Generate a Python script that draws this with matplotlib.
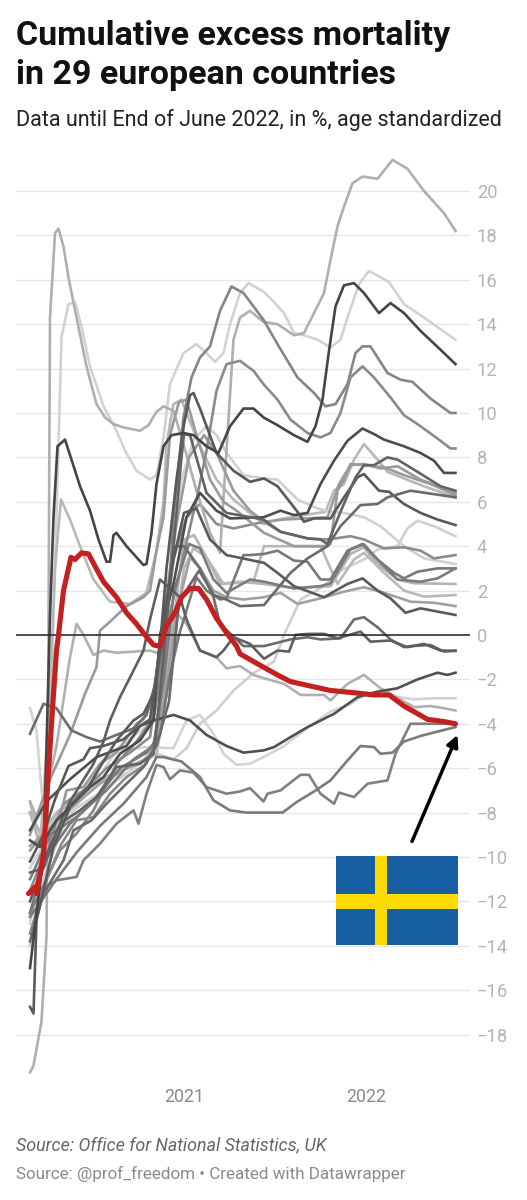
import matplotlib
matplotlib.use("Agg")
import matplotlib.pyplot as plt
from matplotlib.patches import Rectangle

plt.rcParams['font.family'] = ['Roboto', 'DejaVu Sans']

# x = days since 1 Jan 2021, y = cumulative excess mortality in %
s01 = [(-308,-19.7),(-301,-19.4),(-285,-17.4),(-275,-13.6),(-272,-5),(-270,5),(-268,14.3),(-258,18.1),(-251,18.3),(-241,17.5),(-231,16.1),(-215,14.3),(-195,12.1),(-175,10.4),(-158,9.8),(-141,9.5),(-121,9.35),(-88,9.2),(-71,9.45),(-55,10.05),(-41,10.3),(-21,10.1),(-1,8.6),(25,6.5),(52,4.6),(72,3.7),(85,8.3),(99,13.3),(112,14.3),(132,14.6),(159,14.1),(187,14),(220,13.5),(240,13.6),(260,14.5),(280,15.4),(293,16.9),(307,18.4),(320,19.3),(337,20.35),(357,20.65),(387,20.55),(417,21.4),(447,21),(480,20),(520,19),(543,18.2)]
s02 = [(-308,-13),(-275,-8),(-258,3),(-245,13.4),(-231,14.9),(-218,15),(-205,13.9),(-188,12.1),(-161,10.3),(-135,9.2),(-118,8.3),(-95,7.4),(-68,7),(-55,7.2),(-41,8.9),(-28,11.3),(-1,12.7),(25,13.1),(45,12.7),(62,12.3),(79,12.7),(92,14),(112,15.4),(129,15.85),(160,15.45),(180,15),(200,14.5),(220,13.6),(240,13.5),(267,13.3),(293,12.95),(313,13.3),(327,14.3),(350,15.8),(370,16.4),(410,15.9),(440,14.9),(480,14.3),(543,13.3)]
s03 = [(-308,-12.55),(-275,-11),(-248,-9.7),(-215,-8.95),(-181,-7.9),(-135,-5.8),(-95,-4.8),(-60,-3.7),(-35,0),(-21,5.3),(-1,9.8),(15,11.6),(32,12.5),(52,13),(72,14.6),(95,15.7),(119,15.4),(139,14.8),(159,14.2),(187,13.1),(227,11.6),(260,10.9),(283,10.3),(303,10.4),(327,11.3),(343,12.7),(357,13),(373,13),(407,11.8),(433,11.5),(457,11.4),(493,10.65),(533,10),(543,10)]
s04 = [(-308,-13.45),(-281,-11.35),(-245,-9.4),(-215,-8.35),(-181,-8.2),(-148,-7.15),(-115,-6.4),(-75,-5.8),(-55,-4.6),(-30,0.8),(25,6.1),(45,8.3),(65,11),(85,12.2),(112,12.35),(139,11.9),(159,11.3),(187,10.6),(213,9.7),(247,9.1),(273,8.9),(293,9.1),(313,10),(333,11.6),(357,12.1),(380,11.6),(413,10.7),(440,9.9),(467,9.5),(507,8.85),(533,8.4),(543,8.4)]
s05 = [(-308,-15),(-281,-9.9),(-275,-5),(-268,0.8),(-261,5.3),(-253,8.5),(-238,8.8),(-225,7.9),(-208,6.7),(-188,5.6),(-171,4.3),(-155,3.3),(-148,3.3),(-141,4.5),(-135,4.6),(-115,4),(-95,3.5),(-81,3.15),(-75,3.2),(-65,4.6),(-55,6.8),(-41,8.5),(-25,9),(-1,9.1),(19,9),(45,8.5),(69,8.2),(92,9.4),(119,10.2),(139,10.2),(159,9.8),(187,9.45),(220,9),(247,8.7),(263,9.4),(277,10.6),(290,12.8),(303,14.8),(320,15.75),(340,15.85),(360,15.4),(390,14.5),(413,14.95),(440,14.5),(473,13.7),(513,12.85),(543,12.2)]
s06 = [(-308,-8),(-288,-9.5),(-268,-3),(-258,3),(-246,6.1),(-228,5.2),(-208,4),(-181,2.5),(-148,1.5),(-108,1.4),(-75,1.9),(-55,3.8),(-41,6),(-35,8.6),(-21,10.4),(-5,10.6),(5,10),(32,8.5),(65,7),(99,6.1),(159,5),(187,5.2),(240,5.4),(283,5.55),(300,6.5),(320,6.8),(340,7.9),(360,8.6),(387,7.9),(407,7.35),(440,7.05),(480,6.7),(543,6.2)]
s07 = [(-308,-9.25),(-288,-9.55),(-255,-8.35),(-215,-7.45),(-188,-6.85),(-161,-6.4),(-128,-5.35),(-88,-4.75),(-61,-3.85),(-48,0),(-21,2.3),(5,5.3),(32,6.4),(65,5.6),(92,5.25),(159,5.3),(193,5.6),(220,5.4),(247,5.5),(273,6.8),(300,7.85),(327,8.75),(357,9.3),(380,9.05),(400,8.8),(440,8.5),(473,8.2),(500,7.85),(520,7.3),(543,7.3)]
s08 = [(-308,-10.2),(-281,-9),(-258,-7.4),(-231,-5.9),(-201,-5.6),(-188,-5.1),(-161,-5),(-121,-4.7),(-88,-4.1),(-68,-3.8),(-58,-2.3),(-48,-0.5),(-35,3),(-15,7),(0,9.5),(12,10.8),(19,10.9),(32,10.2),(65,8.2),(99,7.4),(132,6.9),(160,7.05),(187,6.7),(227,5.55),(240,5.1),(260,5.25),(293,5.25),(320,6.2),(347,7.1),(360,7.25),(390,6.5),(410,6.45),(440,5.9),(473,5.5),(507,5.2),(543,4.95)]
s09 = [(-308,-14),(-281,-11),(-245,-8.8),(-201,-7),(-161,-5.6),(-115,-4.8),(-68,-4),(-48,-1),(-28,3),(-5,7),(19,8.8),(45,9.4),(65,9),(85,8.2),(119,7.2),(160,7.05),(187,7),(227,6.1),(267,5.7),(293,5.55),(320,5.5),(360,5.3),(393,4.9),(440,4),(480,3.45),(543,3.2)]
s10 = [(-308,-9.7),(-281,-9),(-248,-8.2),(-235,-7),(-201,-6.85),(-168,-5.8),(-135,-5.3),(-95,-4),(-81,-3.8),(-61,-2.9),(-40,1),(-15,5),(10,8),(40,9),(65,8.2),(99,6.5),(132,5.6),(160,5.1),(200,5.2),(287,5.3),(310,6.8),(333,7.65),(360,7.7),(393,7.5),(427,7.6),(473,7),(543,6.4)]
s11 = [(-308,-10.7),(-281,-10.5),(-248,-8.5),(-208,-7.9),(-175,-7.3),(-135,-5.95),(-88,-5.8),(-61,-5.35),(-45,-2),(-25,3),(-5,8),(0,9.05),(12,9),(45,6.4),(85,5.5),(159,5.2),(193,4.65),(247,4.35),(273,4.3),(287,4.1),(313,5.55),(343,7.1),(360,7.65),(380,7.65),(407,8),(427,7.9),(467,7.35),(513,6.7),(543,6.5)]
s12 = [(-308,-13.8),(-281,-11.65),(-241,-10.15),(-221,-8.8),(-185,-8.35),(-155,-7.6),(-115,-6.7),(-81,-5.95),(-55,-5),(-30,-3),(-10,1.5),(30,2.9),(60,1.8),(79,1.65),(112,1.3),(160,1.35),(180,1.9),(213,2.8),(247,3.45),(287,4),(313,4.9),(353,5.85),(387,5.9),(407,6.2),(453,6.5),(543,6.2)]
s13 = [(-308,-10.5),(-268,-9),(-215,-7.8),(-161,-7),(-101,-6),(-61,-5.3),(-21,-5.6),(5,-5.1),(32,-4),(65,-3.4),(99,-2.5),(140,-1.7),(180,-1.2),(200,0),(233,1.6),(280,2.2),(313,2.9),(360,3.4),(387,3.85),(427,4),(447,4.8),(467,5.15),(500,4.9),(543,4.45)]
s14 = [(-308,-11.5),(-281,-10),(-241,-7.6),(-201,-7),(-155,-6),(-108,-5.3),(-68,-4.6),(-40,0),(-20,3.5),(5,5.3),(32,5.9),(65,5),(99,4.8),(160,5.1),(193,4.65),(247,4.35),(287,4.3),(333,4.45),(360,4.3),(400,3.9),(440,3.95),(473,3.8),(500,3.45),(543,3.6)]
s15 = [(-308,-12.5),(-275,-10),(-228,-8.5),(-181,-7.5),(-128,-6),(-75,-5.3),(-48,-4.5),(-30,-2),(-10,0),(25,2.6),(45,2),(72,1.6),(85,1.65),(119,3.6),(132,3.6),(160,3.65),(187,3.8),(220,3.35),(247,3.3),(273,2.5),(293,2.5),(327,3.8),(357,4.1),(387,3.4),(420,2.8),(440,2.55),(467,2.85),(507,3),(543,3)]
s16 = [(-308,-11),(-268,-9),(-215,-8.2),(-155,-7),(-101,-5.6),(-61,-5),(-40,-2),(-20,2),(10,4.1),(32,3.9),(59,2.5),(85,1.9),(132,2.5),(160,2.4),(220,2.1),(273,2.2),(293,2.33),(333,3.85),(360,4.08),(393,3.25),(427,2.5),(473,2.4),(507,2.55),(543,3)]
s17 = [(-308,-8),(-285,-9),(-255,-8),(-201,-7),(-148,-6.3),(-88,-5.8),(-55,-5),(-30,-1),(0,4.3),(20,4.5),(45,3.5),(72,2.3),(112,2.4),(160,2.3),(220,2.1),(293,2.2),(333,3.65),(360,3.95),(387,3.2),(427,2.5),(460,2.33),(543,2.3)]
s18 = [(-308,-7.5),(-288,-9.5),(-250,-8),(-208,-7.1),(-161,-6.6),(-108,-5.9),(-55,-5.4),(-30,-2),(0,3),(19,3.9),(45,3.5),(79,2.3),(139,2.4),(160,4),(220,4),(273,4),(307,2.3),(340,3.4),(360,3.7),(400,2.8),(440,2),(480,1.73),(543,1.8)]
s19 = [(-308,-9.5),(-268,-8.7),(-221,-7.7),(-168,-6.7),(-115,-6),(-68,-5.5),(-40,-3),(-15,1),(12,3.5),(32,3),(59,2),(85,1.7),(119,1.6),(160,1.7),(193,1.9),(227,1.4),(273,1.65),(320,1.95),(360,2.15),(393,1.95),(427,1.7),(453,1.5),(500,1.45),(543,1.3)]
s20 = [(-308,-16.75),(-301,-17.05),(-295,-12.85),(-261,-9.55),(-225,-7.6),(-191,-6.85),(-168,-5.95),(-135,-4.75),(-101,-3.85),(-81,-3.55),(-61,-2.65),(-45,0),(-25,3),(0,5.5),(25,5.7),(52,4.3),(85,3.6),(160,3.25),(187,2.8),(220,2.2),(280,1.7),(327,2.3),(357,2.55),(387,2),(413,1.65),(443,1),(473,1.2),(520,1),(543,0.9)]
s21 = [(-308,-4.45),(-281,-3.1),(-255,-3.3),(-225,-4.3),(-195,-4.6),(-168,-4.8),(-135,-4.5),(-100,-4.2),(-75,-3.6),(-55,-2),(-40,0),(-20,4),(0,4),(32,3),(59,1.7),(72,0.5),(119,-0.5),(160,-0.5),(213,-0.2),(247,-0.1),(273,-0.2),(313,-0.15),(340,0.7),(360,0.8),(387,0.35),(413,-0.2),(440,-0.55),(453,-0.5),(493,-0.45),(520,-0.75),(543,-0.7)]
s22 = [(-308,-12),(-268,-9.5),(-228,-7.5),(-181,-5.8),(-161,-4.8),(-148,-3.85),(-128,-2.8),(-101,-1.6),(-81,-0.7),(-68,0.7),(-48,2.5),(-8,1.7),(5,0.7),(32,-0.7),(65,-1),(79,-0.7),(99,-0.1),(132,-0.4),(160,-1.07),(187,-0.7),(210,-0.75),(223,0),(247,0.05),(280,0.05),(307,-0.15),(353,0.15),(373,-0.3),(413,-0.25),(447,-0.55),(480,-0.4),(513,-0.7),(543,-0.72)]
s23 = [(-308,-8.8),(-275,-7.5),(-228,-6.5),(-175,-5.5),(-115,-5),(-88,-4.1),(-61,-3.85),(-21,-3.6),(12,-3.85),(45,-4.5),(85,-5),(119,-5.3),(159,-5.2),(180,-5.05),(213,-4.6),(247,-4.15),(300,-3.55),(347,-2.8),(387,-2.55),(427,-2.4),(467,-2),(507,-1.7),(527,-1.8),(543,-1.7)]
s24 = [(-308,-11.65),(-275,-11.35),(-255,-11.05),(-215,-10.9),(-201,-10.15),(-168,-9.4),(-135,-8.5),(-101,-7.9),(-91,-8.5),(-75,-7.15),(-55,-5.85),(-41,-5.95),(-28,-6.5),(-8,-6.1),(19,-6.2),(45,-6.85),(85,-7.15),(112,-7.05),(132,-6.9),(159,-7.5),(167,-7.15),(193,-7),(233,-6.3),(250,-6.3),(273,-7.15),(300,-7.6),(310,-7.1),(340,-7.3),(367,-6.7),(407,-6.55),(423,-5.35),(453,-4),(493,-4),(543,-4)]
s25 = [(-308,-12.7),(-255,-11),(-215,-9.8),(-168,-8.6),(-121,-7.6),(-75,-6.4),(-55,-5.5),(-41,-5.5),(-5,-5.7),(32,-6.4),(59,-7.45),(92,-7.9),(125,-8),(160,-8),(197,-8),(227,-7.5),(260,-7.05),(293,-6.55),(327,-5.65),(353,-5),(380,-5.05),(393,-5.35),(417,-5.3),(440,-4.8),(473,-4.55),(507,-4.35),(543,-4.15)]
s26 = [(-308,-3.3),(-295,-4.3),(-285,-7),(-268,-10),(-228,-8),(-181,-6.8),(-135,-5.2),(-75,-5.05),(-21,-5.1),(5,-3.85),(32,-3.6),(59,-4.45),(79,-5.35),(105,-5.85),(132,-5.8),(159,-5.5),(200,-5),(240,-4.3),(293,-3.45),(333,-3.1),(360,-2.7),(400,-2.7),(460,-2.9),(500,-2.85),(543,-2.85)]
s27 = [(-308,-7.5),(-295,-8.2),(-275,-7),(-255,-5),(-228,-1),(-215,0.5),(-201,0),(-181,-0.9),(-161,-0.7),(-135,-0.8),(-101,-0.75),(-68,-0.7),(-41,-0.9),(-15,1),(5,0.5),(32,-0.7),(65,-1),(85,-1.5),(112,-1.4),(139,-1.8),(160,-1.95),(200,-2.2),(233,-2.7),(280,-2.7),(293,-2.95),(327,-2.2),(360,-1.8),(393,-2.4),(417,-2.7),(460,-3.25),(493,-3.2),(520,-3.3),(543,-3.4)]
s28 = [(-308,-9),(-268,-6.5),(-228,-4.5),(-198,-2.65),(-175,-1.45),(-168,0.2),(-148,0.6),(-115,1.3),(-81,1.7),(-68,2),(-55,3.8),(-41,5.3),(-28,9),(-10,10.5),(5,10.6),(25,9),(52,7),(79,6),(105,5.6),(132,5.1),(160,4.6),(220,4),(280,4),(293,4.1),(307,6.5),(320,7),(333,7.7),(360,7.65),(400,7.55),(440,7.2),(493,6.8),(543,6.3)]
sweden = [(-311,-11.65),(-298,-11.35),(-295,-11.65),(-281,-9.9),(-271,-6.1),(-262,-3),(-255,-0.7),(-251,0),(-241,2),(-226,3.5),(-218,3.4),(-205,3.7),(-191,3.65),(-178,3.1),(-161,2.4),(-135,1.7),(-115,1),(-95,0.5),(-78,0),(-61,-0.45),(-48,-0.5),(-35,0.4),(-18,1),(-5,1.7),(12,2.1),(29,2.1),(45,1.6),(65,0.75),(85,0.1),(105,-0.5),(112,-0.85),(159,-1.45),(187,-1.8),(213,-2.1),(253,-2.3),(293,-2.5),(340,-2.6),(380,-2.7),(410,-2.7),(440,-3.2),(487,-3.8),(520,-3.9),(543,-4)]

grey_series = [s02, s06, s09, s13, s17, s18, s26, s27, s19, s14, s01, s28, s10, s03, s04, s15, s16, s24, s25, s21, s22, s23, s07, s08, s11, s12, s20, s05]
grey_colors = ['#d2d2d2', '#b8b8b8', '#d0d0d0', '#cfcfcf', '#b4b4b4', '#b8b8b8', '#d4d4d4', '#b0b0b0', '#a0a0a0', '#8c8c8c', '#afafaf', '#9a9a9a', '#9a9a9a', '#858585', '#8a8a8a', '#787878', '#7c7c7c', '#808080', '#7a7a7a', '#6c6c6c', '#5e5e5e', '#505050', '#4c4c4c', '#585858', '#636363', '#6a6a6a', '#5a5a5a', '#454545']

y_ticks = list(range(-18, 21, 2))
x_ticks = [0, 365]
x_labels = ['2021', '2022']

fig = plt.figure(figsize=(5.27, 12), dpi=100)
ax = fig.add_axes([16 / 527, 125 / 1200, 454 / 527, 910 / 1200])
ax.set_xlim(-336, 572)
ax.set_ylim(-19.82, 21.17)

for spine in ax.spines.values():
    spine.set_visible(False)
ax.grid(axis='y', color='#e6e6e6', lw=1.0)
ax.set_axisbelow(True)
ax.yaxis.tick_right()
ax.set_yticks(y_ticks)
ax.set_yticklabels([str(t).replace('-', '\u2212') for t in y_ticks])
ax.tick_params(axis='y', length=0, pad=5, labelsize=13.2, labelcolor='#b4b4b4')
ax.set_xticks(x_ticks)
ax.set_xticklabels(x_labels)
ax.tick_params(axis='x', length=0, pad=9, labelsize=12.8, labelcolor='#8a8a8a')

for data, col in zip(grey_series, grey_colors):
    ax.plot([p[0] for p in data], [p[1] for p in data], color=col, lw=1.9,
            solid_joinstyle='round', clip_on=False)

ax.axhline(0, color='#222222', lw=1.1, zorder=3)
ax.plot([p[0] for p in sweden], [p[1] for p in sweden], color='#c4201f', lw=3.7,
        solid_joinstyle='round', solid_capstyle='round', clip_on=False, zorder=4)

# swedish flag and arrow
ax.add_patch(Rectangle((304, -13.96), 244, 4.01, color='#175fa3', lw=0, zorder=5))
ax.add_patch(Rectangle((382, -13.96), 24, 4.01, color='#fedc00', lw=0, zorder=6))
ax.add_patch(Rectangle((304, -12.36), 244, 0.69, color='#fedc00', lw=0, zorder=6))
ax.annotate('', xy=(547, -4.5), xytext=(456, -9.3),
            arrowprops=dict(arrowstyle='-|>', color='black', lw=2.5, mutation_scale=17,
                            shrinkA=0, shrinkB=0), zorder=7)

fig.text(16 / 527, 1 - 36 / 1200, 'Cumulative excess mortality', fontsize=24.5, fontweight='bold',
         color='#111111', va='center')
fig.text(16 / 527, 1 - 75 / 1200, 'in 29 european countries', fontsize=24.5, fontweight='bold',
         color='#111111', va='center')
fig.text(16 / 527, 1 - 120 / 1200, 'Data until End of June 2022, in %, age standardized', fontsize=15.5,
         color='#222222', va='center')
fig.text(16 / 527, 1 - 1145 / 1200, 'Source: Office for National Statistics, UK', fontsize=12.9,
         style='italic', color='#666666', va='center')
fig.text(16 / 527, 1 - 1174 / 1200, 'Source: @prof_freedom \u2022 Created with Datawrapper', fontsize=12.25,
         color='#8a8a8a', va='center')

fig.savefig('out.png', dpi=100)
